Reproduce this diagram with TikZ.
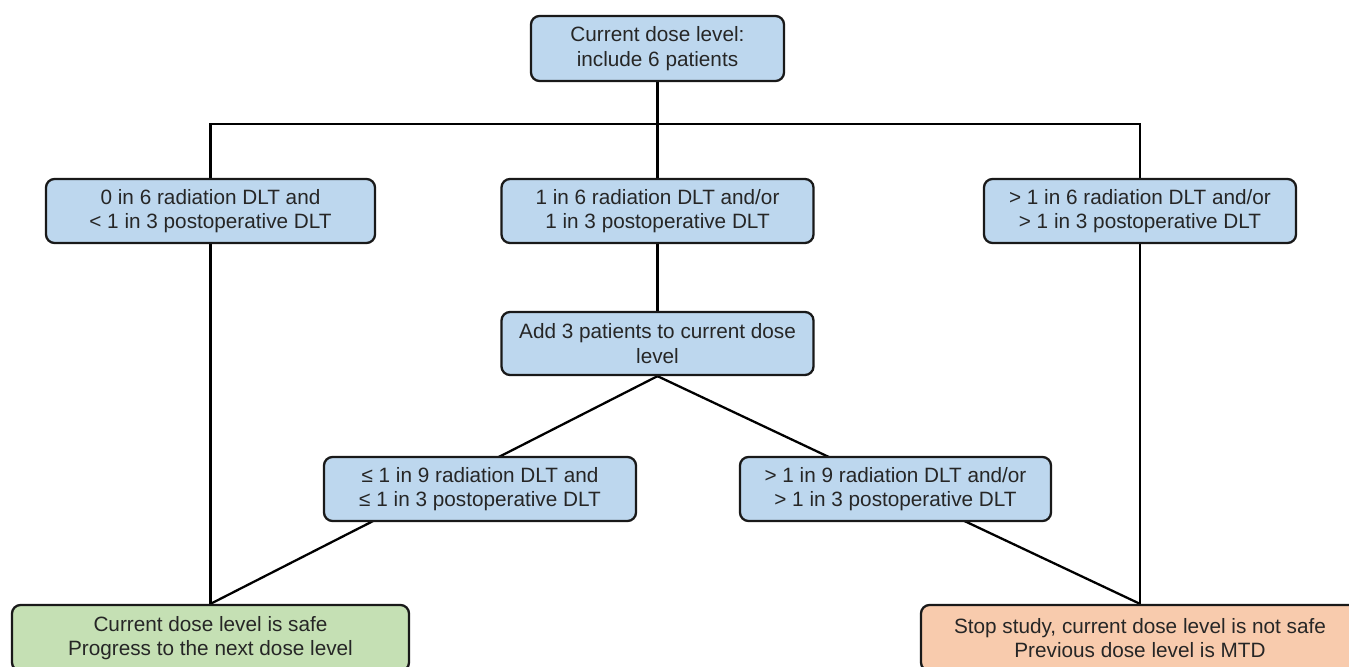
\documentclass[tikz,border=0pt]{standalone}
\usepackage{fontspec}
\setmainfont{Liberation Sans}
\usepackage{xcolor}
\usetikzlibrary{backgrounds}
\definecolor{boxblue}{RGB}{189,215,238}
\definecolor{boxgreen}{RGB}{197,224,180}
\definecolor{boxorange}{RGB}{248,203,173}

\begin{document}
\begin{tikzpicture}[
    box/.style={draw=black!90, line width=1.3pt, rounded corners=0.17cm, rectangle, minimum width=6.24cm, minimum height=1.28cm, align=center, inner sep=0pt, font=\fontsize{11.8}{13.9}\selectfont, text=black!85},
    link/.style={line width=1.3pt, black}
]
\useasboundingbox (0,0) rectangle (26.98,-13.34);
\node[box, fill=boxblue, minimum width=5.06cm, minimum height=1.3cm] (start) at (13.15,-0.97) {Current dose level:\\include 6 patients};
\node[box, fill=boxblue, minimum width=6.58cm] (none) at (4.21,-4.22) {0 in 6 radiation DLT and\\< 1 in 3 postoperative DLT};
\node[box, fill=boxblue] (one) at (13.15,-4.22) {1 in 6 radiation DLT and/or\\1 in 3 postoperative DLT};
\node[box, fill=boxblue] (many) at (22.80,-4.22) {> 1 in 6 radiation DLT and/or\\> 1 in 3 postoperative DLT};
\node[box, fill=boxblue, minimum height=1.26cm] (add) at (13.15,-6.87) {Add 3 patients to current dose\\level};
\node[box, fill=boxblue] (low) at (9.60,-9.78) {≤ 1 in 9 radiation DLT and\\≤ 1 in 3 postoperative DLT};
\node[box, fill=boxblue, minimum width=6.22cm] (high) at (17.91,-9.78) {> 1 in 9 radiation DLT and/or\\> 1 in 3 postoperative DLT};
\node[box, fill=boxgreen, minimum width=7.94cm, minimum height=1.32cm] (safe) at (4.21,-12.76) {Current dose level is safe\\Progress to the next dose level};
\node[box, fill=boxorange, minimum width=8.76cm, minimum height=1.32cm] (stop) at (22.80,-12.76) {Stop study, current dose level is not safe\\Previous dose level is MTD};

\begin{scope}[on background layer]
\draw[link] (start) -- (one);
\draw[link] (none.north) -- ++(0,1.08) -| (many.north);
\draw[link] (none) -- (safe);
\draw[link] (many) -- (stop);
\draw[link] (one) -- (add);
\draw[link] (add.south) -- (safe.north);
\draw[link] (add.south) -- (stop.north);
\end{scope}
\end{tikzpicture}
\end{document}
